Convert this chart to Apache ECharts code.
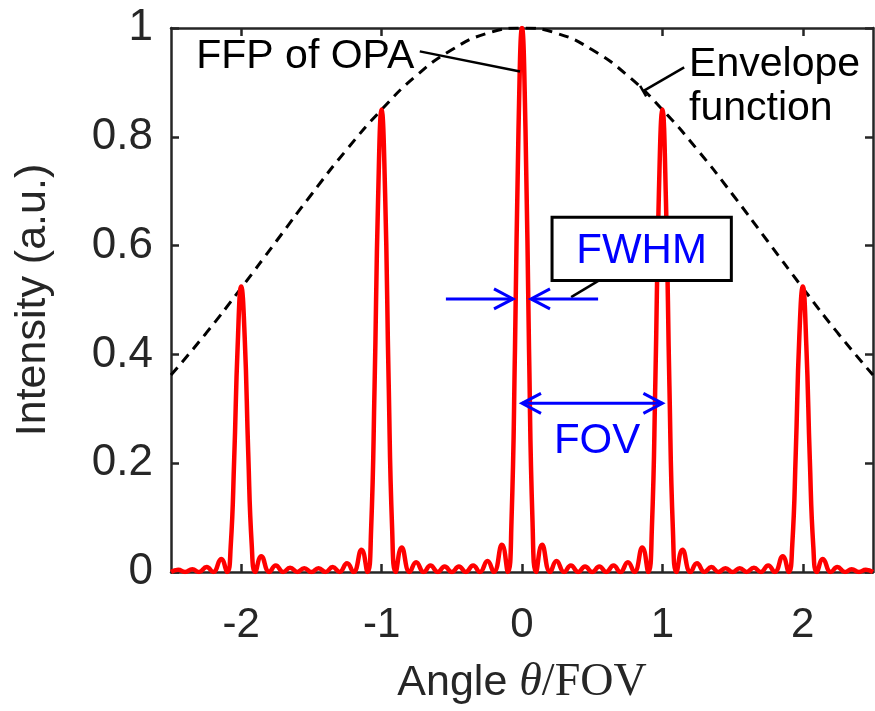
<!DOCTYPE html>
<html>
<head>
<meta charset="utf-8">
<script src="https://cdn.jsdelivr.net/npm/echarts@6/dist/echarts.min.js"></script>
<style>
html,body{margin:0;padding:0;background:#fff;}
#chart{width:875px;height:711px;}
</style>
</head>
<body>
<div id="chart"></div>
<script>
// ---- data ----
const angles = [
 -2.5,-2.449,-2.4,-2.348,-2.3,-2.246,-2.2,-2.143,-2.1,-2.075,-2.05,-2.025,
 -2,-1.975,-1.95,-1.925,-1.9,-1.857,-1.8,-1.754,-1.7,-1.652,-1.6,-1.551,-1.5,-1.449,-1.4,-1.348,-1.3,-1.246,-1.2,-1.143,-1.1,-1.075,-1.05,-1.025,
 -1,-0.975,-0.95,-0.925,-0.9,-0.857,-0.8,-0.754,-0.7,-0.652,-0.6,-0.551,-0.5,-0.449,-0.4,-0.348,-0.3,-0.246,-0.2,-0.143,-0.1,-0.075,-0.05,-0.025,
 0,
 0.025,0.05,0.075,0.1,0.143,0.2,0.246,0.3,0.348,0.4,0.449,0.5,0.551,0.6,0.652,0.7,0.754,0.8,0.857,0.9,0.925,0.95,0.975,
 1,1.025,1.05,1.075,1.1,1.143,1.2,1.246,1.3,1.348,1.4,1.449,1.5,1.551,1.6,1.652,1.7,1.754,1.8,1.857,1.9,1.925,1.95,1.975,
 2,2.025,2.05,2.075,2.1,2.143,2.2,2.246,2.3,2.348,2.4,2.449,2.5
];
const intensity = [
 0,0.004,0,0.005,0,0.009,0,0.024,0,0.046,0.207,0.417,
 0.525,0.431,0.220,0.050,0,0.029,0,0.012,0,0.008,0,0.007,0,0.007,0,0.009,0,0.016,0,0.041,0,0.076,0.342,0.685,
 0.850,0.696,0.353,0.080,0,0.045,0,0.018,0,0.012,0,0.010,0,0.010,0,0.012,0,0.020,0,0.050,0,0.092,0.409,0.812,
 1.000,
 0.812,0.409,0.092,0,0.050,0,0.020,0,0.012,0,0.010,0,0.010,0,0.012,0,0.018,0,0.045,0,0.080,0.353,0.696,
 0.850,0.685,0.342,0.076,0,0.041,0,0.016,0,0.009,0,0.007,0,0.007,0,0.008,0,0.012,0,0.029,0,0.050,0.220,0.431,
 0.525,0.417,0.207,0.046,0,0.024,0,0.009,0,0.005,0,0.004,0
];
const envAngles = [-2.5,-2.25,-2,-1.75,-1.5,-1.25,-1,-0.75,-0.5,-0.25,0,0.25,0.5,0.75,1,1.25,1.5,1.75,2,2.25,2.5];
const envValues = [0.362,0.439,0.522,0.608,0.694,0.776,0.850,0.913,0.960,0.990,1,0.990,0.960,0.913,0.850,0.776,0.694,0.608,0.522,0.439,0.362];
const xTicks = [-2,-1,0,1,2];
const yTicks = [0,0.2,0.4,0.6,0.8,1];

const AX = '#262626';
const SANS = '"Liberation Sans", Arial, Helvetica, sans-serif';
const SERIF = '"Liberation Serif", "Times New Roman", serif';

const chart = echarts.init(document.getElementById('chart'), null, {renderer:'canvas'});

const baseX = {
  type:'value', min:-2.5, max:2.5,
  axisLine:{show:true, onZero:false, lineStyle:{color:AX, width:2.5}},
  axisTick:{show:true, inside:true, length:8, lineStyle:{color:AX, width:2.5}, customValues:xTicks},
  splitLine:{show:false}
};
const baseY = {
  type:'value', min:0, max:1,
  axisLine:{show:true, onZero:false, lineStyle:{color:AX, width:2.5}},
  axisTick:{show:true, inside:true, length:8, lineStyle:{color:AX, width:2.5}, customValues:yTicks},
  splitLine:{show:false}
};

chart.setOption({
  animation:false,
  backgroundColor:'#fff',
  grid:{left:171, right:2, top:28, bottom:131, containLabel:false},
  xAxis:[
    Object.assign({}, baseX, {
      position:'bottom',
      axisLabel:{show:true, customValues:xTicks, margin:32, color:AX, fontSize:42, fontFamily:SANS},
      name:'{a|Angle }{b|θ}{c|/FOV}',
      nameLocation:'middle', nameGap:88,
      nameTextStyle:{color:AX, rich:{
        a:{fontFamily:SANS, fontSize:43, color:AX},
        b:{fontFamily:SERIF, fontStyle:'italic', fontSize:46, color:AX},
        c:{fontFamily:SERIF, fontSize:46, color:AX}
      }}
    }),
    Object.assign({}, baseX, {position:'top', axisLabel:{show:false}})
  ],
  yAxis:[
    Object.assign({}, baseY, {
      position:'left',
      axisLabel:{show:true, customValues:yTicks, margin:18, color:AX, fontSize:44, fontFamily:SANS},
      name:'Intensity (a.u.)', nameLocation:'middle', nameGap:116,
      nameTextStyle:{color:AX, fontSize:43, fontFamily:SANS}
    }),
    Object.assign({}, baseY, {position:'right', axisLabel:{show:false}})
  ],
  series:[
    {
      type:'line', name:'Envelope function',
      data: envAngles.map((a,i)=>[a, envValues[i]]),
      smooth:true, showSymbol:false, symbol:'none',
      lineStyle:{color:'#000', width:3, type:[10,7]},
      z:2
    },
    {
      type:'line', name:'FFP of OPA',
      data: angles.map((a,i)=>[a, intensity[i]]),
      smooth:0.5, showSymbol:false, symbol:'none',
      lineStyle:{color:'#ff0000', width:4.5},
      z:3
    }
  ]
});

// ---- annotations (in data units) ----
const P = (x,y) => chart.convertToPixel({xAxisIndex:0, yAxisIndex:0}, [x,y]);
const BLUE = '#0000ff';
const g = [];
function line(a,b,color,w){
  g.push({type:'line', shape:{x1:a[0],y1:a[1],x2:b[0],y2:b[1]}, style:{stroke:color, lineWidth:w, lineCap:'butt'}, z:10});
}
function head(tip, from, color){
  const dx = tip[0]-from[0], dy = tip[1]-from[1];
  const L = Math.hypot(dx,dy); const ux = dx/L, uy = dy/L;
  const nx = -uy, ny = ux; const len = 19, wid = 10;
  g.push({type:'polyline', shape:{points:[
    [tip[0]-ux*len+nx*wid, tip[1]-uy*len+ny*wid], tip,
    [tip[0]-ux*len-nx*wid, tip[1]-uy*len-ny*wid]]},
    style:{stroke:color, lineWidth:3, fill:null}, z:10});
}
function text(t, p, color, align, size){
  g.push({type:'text', x:p[0], y:p[1], style:{text:t, fill:color, font:size+'px '+SANS,
    align:align, verticalAlign:'middle', textAlign:align, textVerticalAlign:'middle'}, z:11});
}

// FFP of OPA label and leader
text('FFP of OPA', P(-2.32, 0.947), '#000', 'left', 41);
line(P(-0.728, 0.957), P(-0.014, 0.920), '#000', 2.5);

// Envelope function label and leader
text('Envelope', P(1.19, 0.933), '#000', 'left', 41);
text('function', P(1.19, 0.851), '#000', 'left', 41);
{
  const a = P(1.155, 0.9275), b = P(0.863, 0.884);
  line(a, b, '#000', 2.5);
  const dx=b[0]-a[0], dy=b[1]-a[1], L=Math.hypot(dx,dy);
  const nx=-dy/L*6, ny=dx/L*6;
  line([b[0]+nx,b[1]+ny],[b[0]-nx,b[1]-ny],'#000',2.5);
}

// FWHM box
{
  const tl = P(0.214, 0.652), br = P(1.491, 0.536);
  g.push({type:'rect', shape:{x:tl[0], y:tl[1], width:br[0]-tl[0], height:br[1]-tl[1]},
    style:{fill:'#fff', stroke:'#000', lineWidth:3}, z:9});
  text('FWHM', P(0.852, 0.589), BLUE, 'center', 42);
  line(P(0.549, 0.536), P(0.350, 0.5054), '#000', 2.5);
}
// FWHM arrows
{
  const a1 = P(-0.542, 0.502), t1 = P(-0.064, 0.502);
  line(a1, t1, BLUE, 3); head(t1, a1, BLUE);
  const a2 = P(0.542, 0.502), t2 = P(0.064, 0.502);
  line(a2, t2, BLUE, 3); head(t2, a2, BLUE);
}
// FOV double arrow
{
  const a = P(0, 0.31), b = P(1, 0.31);
  line(a, b, BLUE, 3); head(a, b, BLUE); head(b, a, BLUE);
  text('FOV', P(0.535, 0.2396), BLUE, 'center', 42);
}

chart.setOption({graphic: g});
</script>
</body>
</html>
